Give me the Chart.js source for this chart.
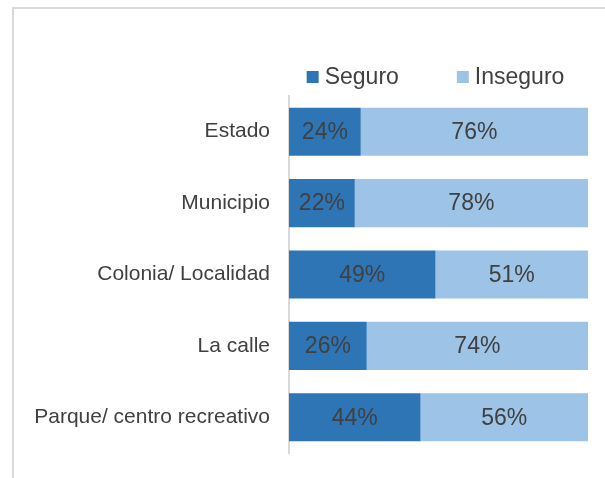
<!DOCTYPE html>
<html>
<head>
<meta charset="utf-8">
<script src="https://cdn.jsdelivr.net/npm/chart.js@4/dist/chart.umd.min.js"></script>
<style>
    html, body { margin: 0; padding: 0; background: #fff; overflow: hidden; }
    #wrap { position: relative; width: 605px; height: 478px; }
    #frame {
        position: absolute; left: 12px; top: 7px; width: 700px; height: 600px;
        border-left: 2px solid #d9d9d9; border-top: 2px solid #d9d9d9;
    }
    #chart { position: absolute; left: 0; top: 0; }
</style>
</head>
<body>
<div id="wrap">
    <div id="frame"></div>
    <canvas id="chart" width="605" height="478"></canvas>
</div>
<script>
const categories = ['Estado', 'Municipio', 'Colonia/ Localidad', 'La calle', 'Parque/ centro recreativo']
const seguro = [24, 22, 49, 26, 44]
const inseguro = [76, 78, 51, 74, 56]
const seriesNames = ['Seguro', 'Inseguro']

const FONT = "'Liberation Sans', Arial, sans-serif"
const colors = ['#2e75b6', '#9dc3e6']

// percent labels in the middle of each segment
const barLabels = {
    id: 'barLabels',
    afterDatasetsDraw(chart) {
        const ctx = chart.ctx
        ctx.save()
        ctx.font = '23px ' + FONT
        ctx.fillStyle = '#404040'
        ctx.textAlign = 'center'
        ctx.textBaseline = 'middle'
        chart.data.datasets.forEach((ds, i) => {
            chart.getDatasetMeta(i).data.forEach((bar, j) => {
                ctx.fillText(ds.data[j] + '%', (bar.x + bar.base) / 2, bar.y + 1)
            })
        })
        ctx.restore()
    }
}

// legend drawn above the plot, centred on the plot area
const topLegend = {
    id: 'topLegend',
    afterDraw(chart) {
        const ctx = chart.ctx,
            box = 12,
            gap = 6,
            spacing = 58,
            y = 77
        ctx.save()
        ctx.font = '23px ' + FONT
        ctx.textBaseline = 'middle'
        const items = chart.data.datasets.map(ds => ({
            text: ds.label,
            color: ds.backgroundColor,
            w: ctx.measureText(ds.label).width
        }))
        let total = items.reduce((s, it) => s + box + gap + it.w, 0) + spacing * (items.length - 1)
        let x = (chart.chartArea.left + chart.chartArea.right) / 2 - total / 2 - 3
        items.forEach(it => {
            ctx.fillStyle = it.color
            ctx.fillRect(x, y - box / 2, box, box)
            ctx.fillStyle = '#404040'
            ctx.fillText(it.text, x + box + gap, y + 1)
            x += box + gap + it.w + spacing
        })
        ctx.restore()
    }
}

new Chart(document.getElementById('chart'), {
    type: 'bar',
    data: {
        labels: categories,
        datasets: [{
            label: seriesNames[0],
            data: seguro,
            backgroundColor: colors[0]
        }, {
            label: seriesNames[1],
            data: inseguro,
            backgroundColor: colors[1]
        }]
    },
    options: {
        indexAxis: 'y',
        responsive: false,
        animation: false,
        devicePixelRatio: 1,
        barPercentage: 0.673,
        categoryPercentage: 1,
        layout: {
            padding: { left: 0, right: 17, top: 96, bottom: 25 }
        },
        plugins: {
            legend: { display: false },
            tooltip: { enabled: false }
        },
        scales: {
            x: {
                stacked: true,
                min: 0,
                max: 100,
                display: false
            },
            y: {
                stacked: true,
                grid: { display: false, drawTicks: false },
                border: { display: true, color: '#d9d9d9', width: 2 },
                ticks: {
                    padding: 19,
                    color: '#404040',
                    font: { family: FONT, size: 21 }
                },
                afterFit: scale => {
                    scale.width = 289
                    scale.paddingTop = 0
                    scale.paddingBottom = 0
                }
            }
        }
    },
    plugins: [barLabels, topLegend]
})
</script>
</body>
</html>
